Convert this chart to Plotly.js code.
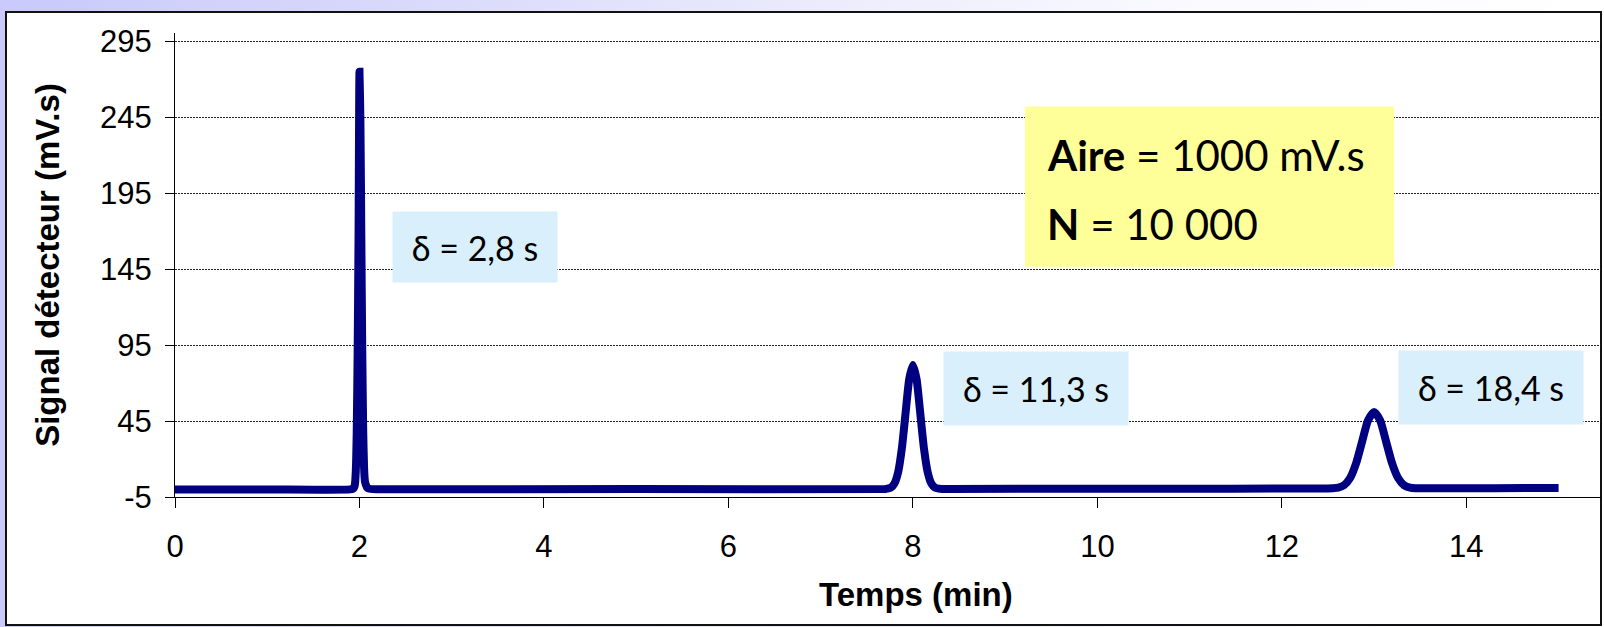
<!DOCTYPE html>
<html>
<head>
<meta charset="utf-8">
<script src="https://cdn.plot.ly/plotly-3.0.1.min.js"></script>
<style>
  html, body { margin: 0; padding: 0; }
  body {
    width: 1604px; height: 627px; overflow: hidden; position: relative;
    background: linear-gradient(90deg, #c9c9fb 0%, #dcdcfb 30%, #eeeefc 55%, #fafaff 75%, #ffffff 100%);
  }
  #frame {
    position: absolute; left: 5px; top: 11px; width: 1597px; height: 615px;
    box-sizing: border-box; background: #ffffff; border: 2px solid #111111;
  }
  #chart { position: absolute; left: 0; top: 0; width: 1604px; height: 627px; }
</style>
</head>
<body>
<div id="frame"></div>
<div id="chart"></div>
<script>
// ---- Data ----
const timeMin = [
  0, 1.0, 1.90, 1.93, 1.94, 1.95, 1.96, 1.97, 1.98, 1.99, 2.00, 2.01, 2.02, 2.03, 2.04, 2.05, 2.06, 2.08, 2.10, 2.20,
  5.0, 7.70, 7.72, 7.76, 7.80, 7.84, 7.88, 7.92, 7.96, 8.00, 8.04, 8.08, 8.12, 8.16, 8.20, 8.24, 8.28, 8.32, 8.40,
  10.5, 12.50, 12.55, 12.61, 12.675, 12.74, 12.805, 12.87, 12.935, 13.00, 13.065, 13.13, 13.195, 13.26, 13.325, 13.39, 13.45, 13.55,
  14.3, 15.0
];
const signal = [
  0, 0, 0, 0.5, 1, 3, 12, 37, 89, 167, 275, 243, 167, 92, 40, 14, 5, 1.5, 0.5, 0.1,
  0.2, 0.3, 0.5, 1.2, 3.9, 11.4, 26.9, 50, 72.6, 82, 72.6, 50, 26.9, 11.4, 3.9, 1.2, 0.5, 0.3, 0.3,
  0.5, 0.6, 0.7, 1.1, 2.8, 7.5, 17.2, 31.5, 45.5, 51, 45.5, 31.5, 17.2, 7.5, 2.8, 1.2, 0.8, 0.7,
  0.8, 0.9
];
const yTicks = [-5, 45, 95, 145, 195, 245, 295];
const xTicks = [0, 2, 4, 6, 8, 10, 12, 14];
const peakLabels = ["\u03b4 = 2,8 s", "\u03b4 = 11,3 s", "\u03b4 = 18,4 s"];
const infoLines = ["<b>Aire</b> = 1000 mV.s", "<b>N</b> = 10 000"];
const xTitle = "Temps (min)";
const yTitle = "Signal détecteur (mV.s)";

const trace = {
  x: timeMin, y: signal, type: 'scatter', mode: 'lines',
  line: { color: '#000080', width: 8, shape: 'spline', smoothing: 0.6 },
  hoverinfo: 'skip'
};

const calib = 'Lato, "Noto Sans", sans-serif';
const arial = '"Liberation Sans", Arial, sans-serif';
const boxBlue = '#daeffc';

const layout = {
  width: 1604, height: 627,
  margin: { l: 175, r: 3, t: 33, b: 130, pad: 0 },
  paper_bgcolor: 'rgba(0,0,0,0)',
  plot_bgcolor: 'rgba(0,0,0,0)',
  showlegend: false,
  font: { family: arial, color: '#000' },
  xaxis: {
    range: [0, 15.46], tickvals: xTicks, ticktext: xTicks.map(String),
    showgrid: false, zeroline: false,
    showline: true, linecolor: '#000', linewidth: 1,
    ticks: 'outside', ticklen: 10, tickcolor: '#000', tickwidth: 1,
    tickfont: { size: 31, family: arial, color: '#000' },
    ticklabelstandoff: 12
  },
  yaxis: {
    range: [-5, 300.6], tickvals: yTicks, ticktext: yTicks.map(String),
    showgrid: true, gridcolor: '#222', gridwidth: 1, griddash: '2px,1px',
    zeroline: false,
    showline: true, linecolor: '#000', linewidth: 1,
    ticks: 'outside', ticklen: 9, tickcolor: '#000', tickwidth: 1,
    tickfont: { size: 31, family: arial, color: '#000' },
    ticklabelstandoff: 7,
    title: { text: '<b>' + yTitle + '</b>', font: { size: 33, family: arial, color: '#000' }, standoff: 30 }
  },
  shapes: [
    { type: 'rect', xref: 'x', yref: 'y', x0: 9.215, x1: 13.217, y0: 146.6, y1: 252.2,
      fillcolor: '#ffff99', line: { width: 0 }, layer: 'above' }
  ],
  annotations: [
    { x: 3.248, y: 159.4, xref: 'x', yref: 'y', text: peakLabels[0], showarrow: false,
      xanchor: 'center', yanchor: 'middle', width: 164, height: 70, bgcolor: boxBlue, borderpad: 0,
      font: { family: calib, size: 34, color: '#000' } },
    { x: 9.333, y: 66.4, xref: 'x', yref: 'y', text: peakLabels[1], showarrow: false,
      xanchor: 'center', yanchor: 'middle', width: 184, height: 73, bgcolor: boxBlue, borderpad: 0,
      font: { family: calib, size: 34, color: '#000' } },
    { x: 14.268, y: 67.3, xref: 'x', yref: 'y', text: peakLabels[2], showarrow: false,
      xanchor: 'center', yanchor: 'middle', width: 184, height: 73, bgcolor: boxBlue, borderpad: 0,
      font: { family: calib, size: 34, color: '#000' } },
    { x: 9.435, y: 220.3, xref: 'x', yref: 'y', text: infoLines[0], showarrow: false,
      xanchor: 'left', yanchor: 'middle', align: 'left',
      font: { family: calib, size: 42, color: '#000' } },
    { x: 9.435, y: 174.9, xref: 'x', yref: 'y', text: infoLines[1], showarrow: false,
      xanchor: 'left', yanchor: 'middle', align: 'left',
      font: { family: calib, size: 42, color: '#000' } },
    { x: 0.5, y: 0, xref: 'paper', yref: 'paper', text: '<b>' + xTitle + '</b>', showarrow: false,
      xanchor: 'center', yanchor: 'middle',
      font: { size: 33, family: arial, color: '#000' } }
  ]
};
// place x title annotation in pixel space converted to paper coordinates
(function(){
  const plotW = 1604 - 175 - 3, plotH = 627 - 33 - 130;
  const a = layout.annotations[5];
  a.x = (916 - 175) / plotW;
  a.y = (627 - 130 - 594) / plotH;
})();

Plotly.newPlot('chart', [trace], layout, { displayModeBar: false, staticPlot: true });
</script>
</body>
</html>
